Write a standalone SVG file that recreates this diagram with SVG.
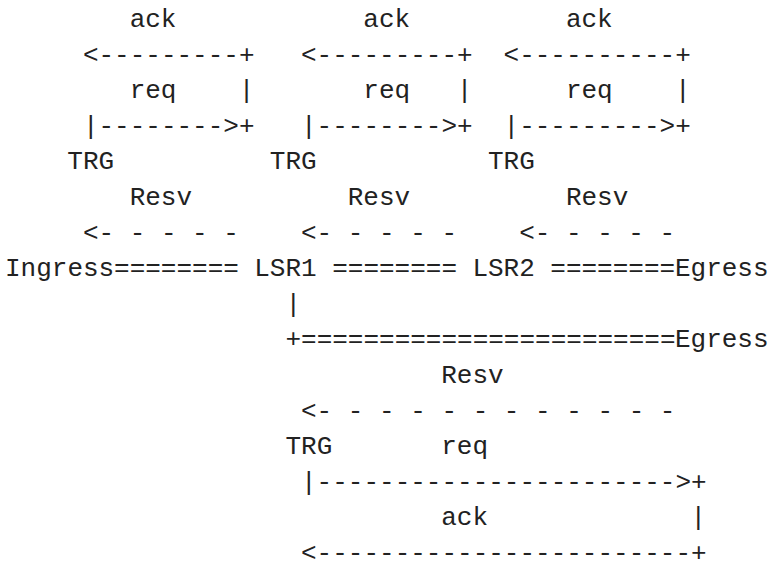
<svg xmlns="http://www.w3.org/2000/svg" width="769" height="563" viewBox="0 0 769 563">
<style>
text{font-family:"Liberation Mono","DejaVu Sans Mono",monospace;font-size:26px;fill:#222;white-space:pre}
</style>
<rect width="769" height="563" fill="#fff"/>
<g id="nodes">
<g id="ingress"><text x="5" y="276.2">Ingress</text></g>
<g id="lsr1"><text x="254.28" y="276.2">LSR1</text></g>
<g id="lsr2"><text x="472.4" y="276.2">LSR2</text></g>
<g id="egress1"><text x="674.94" y="276.2">Egress</text></g>
<g id="egress2"><text x="674.94" y="347.4">Egress</text></g>
</g>
<g id="connectors">
<text x="114.06" y="276.2">========</text>
<text x="332.18" y="276.2">========</text>
<text x="550.3" y="276.2">========</text>
<text x="285.44" y="311.8">|</text>
<text x="285.44" y="347.4">+========================</text>
<text x="82.9" y="62.6">&lt;---------+</text>
<text x="301.02" y="62.6">&lt;---------+</text>
<text x="503.56" y="62.6">&lt;----------+</text>
<text x="238.7" y="98.2">|</text>
<text x="456.82" y="98.2">|</text>
<text x="674.94" y="98.2">|</text>
<text x="82.9" y="133.8">|--------&gt;+</text>
<text x="301.02" y="133.8">|--------&gt;+</text>
<text x="503.56" y="133.8">|---------&gt;+</text>
<text x="82.9" y="240.6" xml:space="preserve">&lt;- - - - -</text>
<text x="301.02" y="240.6" xml:space="preserve">&lt;- - - - -</text>
<text x="519.14" y="240.6" xml:space="preserve">&lt;- - - - -</text>
<text x="301.02" y="418.6" xml:space="preserve">&lt;- - - - - - - - - - - -</text>
<text x="301.02" y="489.8">|-----------------------&gt;+</text>
<text x="690.52" y="525.4">|</text>
<text x="301.02" y="561">&lt;------------------------+</text>
</g>
<g id="labels">
<text x="129.64" y="27">ack</text>
<text x="363.34" y="27">ack</text>
<text x="565.88" y="27">ack</text>
<text x="129.64" y="98.2">req</text>
<text x="363.34" y="98.2">req</text>
<text x="565.88" y="98.2">req</text>
<text x="67.32" y="169.4">TRG</text>
<text x="269.86" y="169.4">TRG</text>
<text x="487.98" y="169.4">TRG</text>
<text x="129.64" y="205">Resv</text>
<text x="347.76" y="205">Resv</text>
<text x="565.88" y="205">Resv</text>
<text x="441.24" y="383">Resv</text>
<text x="285.44" y="454.2">TRG</text>
<text x="441.24" y="454.2">req</text>
<text x="441.24" y="525.4">ack</text>
</g>
</svg>
